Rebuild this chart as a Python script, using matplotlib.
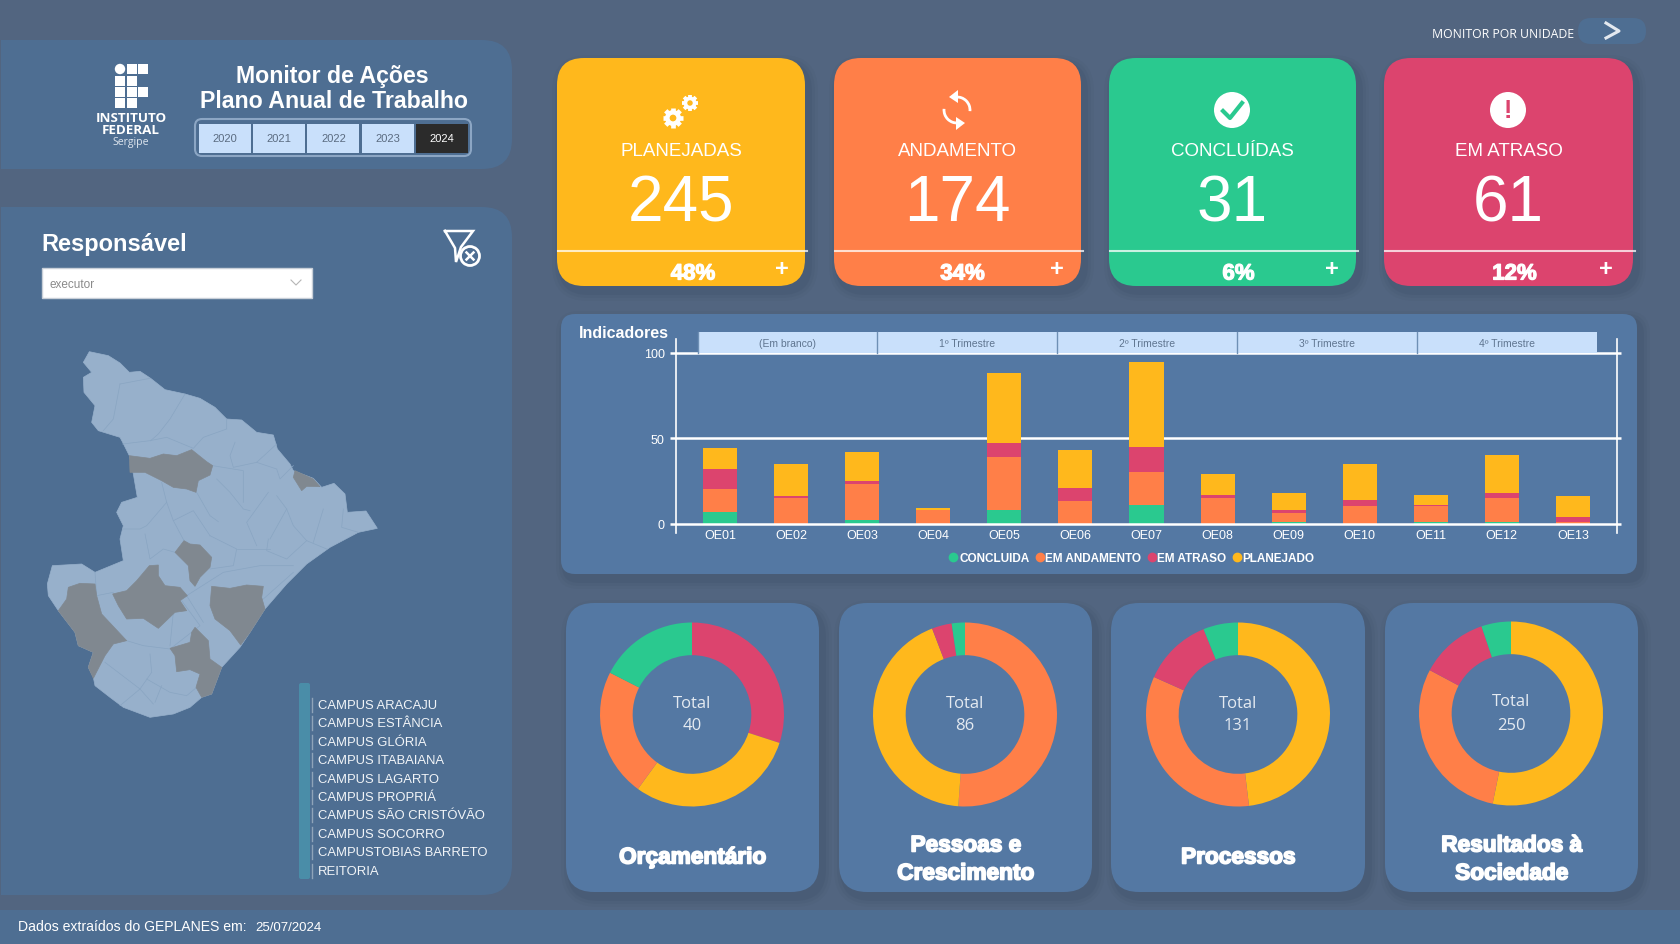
import numpy as np
import matplotlib
matplotlib.use("Agg")
import matplotlib.pyplot as plt
import matplotlib.patheffects as pe
from matplotlib.lines import Line2D
from matplotlib.patches import Arc, Circle, FancyBboxPatch, Polygon, Rectangle

plt.rcParams['font.family'] = ['Liberation Sans', 'DejaVu Sans']

W, H = 1680, 945

# colours
BG = '#526580'
PANEL = '#4E6E92'
PANEL2 = '#5478A3'
YELLOW = '#FFB81C'
ORANGE = '#FF7F48'
GREEN = '#2AC98F'
PINK = '#DC446E'
MAP_FILL = '#97B0CB'
MAP_GRAY = '#808890'
MAP_LINE = '#89A5C2'
BTN = '#C9E0FB'

# kpi cards
card_names = ['PLANEJADAS', 'ANDAMENTO', 'CONCLUÍDAS', 'EM ATRASO']
card_values = [245, 174, 31, 61]
card_pct = ['48%', '34%', '6%', '12%']
card_colors = [YELLOW, ORANGE, GREEN, PINK]

# stacked bars
categories = ['OE01', 'OE02', 'OE03', 'OE04', 'OE05', 'OE06', 'OE07', 'OE08', 'OE09', 'OE10', 'OE11', 'OE12', 'OE13']
concluida = [7, 0, 2, 0, 8, 0, 11, 0, 1, 0, 1, 1, 0]
andamento = [13, 15, 21, 8, 31, 13, 19, 15, 5, 10, 9, 14, 1]
atraso = [12, 1, 2, 0, 8, 8, 15, 2, 2, 4, 1, 3, 3]
planejado = [12, 19, 17, 1, 41, 22, 50, 12, 10, 21, 6, 22, 12]
trimestres = ['(Em branco)', '1º Trimestre', '2º Trimestre', '3º Trimestre', '4º Trimestre']

# donuts, clockwise from 12 o'clock
donut_titles = ['Orçamentário', 'Pessoas e\nCrescimento', 'Processos', 'Resultados à\nSociedade']
donut_totals = [40, 86, 131, 250]
donut_values = [[12, 12, 9, 7], [44, 37, 3, 2], [63, 44, 16, 8], [133, 74, 30, 13]]
donut_colors = [[PINK, YELLOW, ORANGE, GREEN], [ORANGE, YELLOW, PINK, GREEN],
                [YELLOW, ORANGE, PINK, GREEN], [YELLOW, ORANGE, PINK, GREEN]]

anos = ['2020', '2021', '2022', '2023', '2024']
unidades = ['CAMPUS ARACAJU', 'CAMPUS ESTÂNCIA', 'CAMPUS GLÓRIA', 'CAMPUS ITABAIANA', 'CAMPUS LAGARTO',
            'CAMPUS PROPRIÁ', 'CAMPUS SÃO CRISTÓVÃO', 'CAMPUS SOCORRO', 'CAMPUSTOBIAS BARRETO', 'REITORIA']

# map shapes
map_outline = [(178, 38), (235, 50), (270, 72), (298, 100), (330, 97), (362, 118), (405, 152), (465, 165), (510, 178),
               (555, 205), (590, 240), (635, 243), (680, 280), (730, 288), (742, 330), (780, 375), (790, 395), (850, 418),
               (875, 445), (912, 433), (945, 465), (952, 520), (1008, 516), (1042, 568), (985, 580), (900, 625), (830, 675),
               (770, 735), (705, 810), (660, 880), (630, 925), (575, 985), (545, 1065), (515, 1075), (480, 1105), (430, 1125),
               (360, 1135), (280, 1105), (240, 1075), (195, 1040), (190, 1015), (175, 985), (190, 940), (145, 920), (135, 880),
               (85, 815), (55, 770), (52, 735), (67, 680), (155, 675), (195, 700), (280, 665), (270, 600), (280, 560),
               (260, 520), (275, 490), (322, 475), (310, 405), (298, 350), (278, 310), (270, 295), (205, 275), (185, 250),
               (195, 200), (162, 160), (160, 115), (185, 100), (160, 70)]
map_gray = [
    [(298, 350), (360, 358), (400, 345), (440, 350), (485, 332), (530, 368), (548, 380), (540, 408), (505, 425), (498, 460),
     (470, 450), (430, 445), (395, 425), (345, 400), (300, 400)],
    [(795, 395), (850, 420), (870, 443), (830, 442), (815, 455), (790, 415)],
    [(462, 605), (480, 615), (510, 618), (545, 655), (540, 685), (510, 715), (495, 742), (480, 725), (475, 680), (435, 640)],
    [(358, 680), (385, 678), (385, 710), (405, 740), (450, 745), (472, 770), (450, 785), (470, 815), (435, 820), (385, 868),
     (340, 838), (290, 840), (265, 800), (248, 765), (290, 755), (320, 725)],
    [(115, 745), (150, 733), (195, 735), (200, 770), (215, 825), (290, 905), (250, 915), (225, 950), (190, 1018), (175, 985),
     (190, 940), (145, 920), (135, 880), (85, 815), (110, 780)],
    [(545, 742), (600, 748), (650, 738), (700, 742), (695, 775), (705, 810), (660, 880), (632, 918), (600, 875), (555, 840),
     (540, 800)],
    [(495, 865), (535, 905), (540, 960), (575, 985), (545, 1065), (515, 1075), (498, 1045), (510, 1005), (480, 992), (440, 998),
     (435, 950), (420, 928), (480, 910), (485, 880)],
]
map_borders = [
    [(270, 135), (360, 118)], [(270, 135), (250, 240), (220, 275)], [(465, 165), (420, 240), (385, 285), (362, 305)],
    [(278, 315), (360, 305), (410, 295), (490, 328), (520, 295), (590, 270), (590, 240)],
    [(615, 310), (600, 350), (610, 385), (680, 370), (740, 315)], [(680, 370), (740, 390), (750, 420), (790, 380)],
    [(395, 430), (410, 490), (350, 560), (330, 570), (280, 570)], [(410, 490), (430, 545), (490, 515), (540, 590)],
    [(430, 545), (462, 605)], [(345, 585), (360, 660), (400, 630), (435, 640)], [(195, 700), (200, 770), (250, 760)],
    [(548, 380), (640, 395), (640, 490)], [(500, 460), (540, 530), (565, 548)], [(560, 420), (600, 460), (640, 510), (660, 515)],
    [(715, 460), (650, 550), (680, 620)], [(770, 510), (790, 560), (830, 605), (890, 630)], [(880, 510), (850, 610)],
    [(940, 510), (935, 565), (985, 580)], [(720, 600), (770, 510), (740, 470)], [(830, 605), (770, 660), (710, 635), (715, 600)],
    [(540, 590), (620, 630), (610, 680), (540, 690)], [(620, 630), (720, 630)], [(470, 770), (580, 700), (690, 680), (790, 680)],
    [(455, 785), (510, 860), (420, 930), (340, 920), (290, 905)], [(430, 820), (420, 920)],
    [(360, 945), (365, 1000), (330, 1050), (270, 1100)], [(225, 970), (330, 1050), (370, 1095)],
    [(350, 1020), (420, 1060), (470, 1070), (500, 1045)], [(395, 1040), (375, 1090)], [(700, 780), (790, 700)],
    [(470, 770), (520, 850)],
]


def map_xy(points):
    return [(30 + x / 3, 340 + y / 3) for x, y in points]


def box(x0, y0, x1, y1, color, r=24, z=1, **kw):
    p = FancyBboxPatch((x0 + r, y0 + r), x1 - x0 - 2 * r, y1 - y0 - 2 * r,
                       boxstyle='round,pad=%s,rounding_size=%s' % (r, r), fc=color, ec='none', zorder=z, **kw)
    bg.add_patch(p)
    return p


def shadow_box(x0, y0, x1, y1, color, r=24):
    # soft drop shadow
    for grow, a in [(9, 0.05), (6, 0.07), (3, 0.10)]:
        box(x0 - grow + 4, y0 - grow + 6, x1 + grow + 4, y1 + grow + 6, '#2F3F55', r=r + grow, z=1, alpha=a)
    box(x0, y0, x1, y1, color, r=r, z=2)


def px_axes(x0, y0, x1, y1, z=3):
    a = fig.add_axes([x0 / W, 1 - y1 / H, (x1 - x0) / W, (y1 - y0) / H], zorder=z)
    a.patch.set_alpha(0)
    return a


def gear(cx, cy, r, hole):
    # teeth, body and hole of the cog icon
    for ang in np.arange(0, 180, 45):
        dx = np.cos(np.radians(ang)) * r * 1.28
        dy = np.sin(np.radians(ang)) * r * 1.28
        top.plot([cx - dx, cx + dx], [cy - dy, cy + dy], color='white', lw=r * 0.42, solid_capstyle='butt')
    top.add_patch(Circle((cx, cy), r, fc='white', ec='none', zorder=3))
    top.add_patch(Circle((cx, cy), r * 0.42, fc=hole, ec='none', zorder=4))


fig = plt.figure(figsize=(16.8, 9.45), dpi=100, facecolor=BG)
bg = fig.add_axes([0, 0, 1, 1], zorder=0)
bg.set_xlim(0, W)
bg.set_ylim(H, 0)
bg.axis('off')

top = fig.add_axes([0, 0, 1, 1], zorder=5)
top.set_xlim(0, W)
top.set_ylim(H, 0)
top.axis('off')
top.patch.set_alpha(0)

# left panels
box(-40, 41, 512, 170, PANEL, r=30)
box(-40, 208, 512, 896, PANEL, r=30)
bg.add_patch(Rectangle((0, 0), 1, 905, fc=BG, ec='none', zorder=2))
bg.add_patch(Rectangle((0, 911), W, 34, fc=PANEL, ec='none', zorder=1))

# logo
logo_x = [115, 127, 138]
logo_y = [65, 77, 88, 99]
logo_cells = [[0, 1, 1], [1, 1, 0], [1, 1, 1], [1, 1, 0]]
for r, row in enumerate(logo_cells):
    for c, on in enumerate(row):
        if on:
            top.add_patch(Rectangle((logo_x[c], logo_y[r]), 10, 10, fc='white', ec='none'))
top.add_patch(Circle((120, 70), 5.2, fc='white', ec='none'))
top.text(131, 119, 'INSTITUTO', color='white', fontsize=9.6, fontweight='bold', family='Open Sans', ha='center', va='center')
top.text(131, 131, 'FEDERAL', color='white', fontsize=9.6, fontweight='bold', family='Open Sans', ha='center', va='center')
top.text(131, 143, 'Sergipe', color='#DDE5EE', fontsize=7.6, family='Open Sans', ha='center', va='center')

top.text(332, 77, 'Monitor de Ações', color='white', fontsize=16.7, fontweight='bold', ha='center', va='center')
top.text(334.5, 102, 'Plano Anual de Trabalho', color='white', fontsize=16.7, fontweight='bold', ha='center', va='center')

# year slicer
top.add_patch(FancyBboxPatch((201, 126), 264, 25, boxstyle='round,pad=6,rounding_size=7', fc='none', ec='#8CA6C4', lw=1.5))
for i, ano in enumerate(anos):
    x0 = 199 + i * 54.2
    on = ano == '2024'
    top.add_patch(Rectangle((x0, 125), 52, 29, fc='#2B2B2B' if on else BTN, ec='none'))
    top.text(x0 + 26, 139, ano, color='white' if on else '#5A6B80', fontsize=8, ha='center', va='center')

# responsavel
top.text(41, 245, 'Responsável', color='white', fontsize=17, fontweight='bold', ha='left', va='center')
top.add_patch(Rectangle((41.5, 268.5), 270, 30, fc='white', ec='#C8CFD8', lw=1))
top.text(49, 285, 'executor', color='#8A8A8A', fontsize=8.5, ha='left', va='center')
top.plot([291, 296, 301], [281, 286, 281], color='#B5B5B5', lw=0.8)

# clear filter icon
top.plot([445, 473, 461, 456, 455, 445], [232, 232, 248, 263, 249, 232], color='white', lw=1.8, solid_joinstyle='miter')
top.add_patch(Circle((470, 257), 9.5, fc=PANEL, ec='white', lw=2, zorder=3))
top.plot([466.5, 473.5], [253.5, 260.5], color='white', lw=1.8, zorder=4)
top.plot([466.5, 473.5], [260.5, 253.5], color='white', lw=1.8, zorder=4)

# map
top.add_patch(Polygon(map_xy(map_outline), closed=True, fc=MAP_FILL, ec=MAP_FILL, lw=0.5))
for line in map_borders:
    pts = map_xy(line)
    top.plot([p[0] for p in pts], [p[1] for p in pts], color=MAP_LINE, lw=0.5)
for shape in map_gray:
    top.add_patch(Polygon(map_xy(shape), closed=True, fc=MAP_GRAY, ec=MAP_GRAY, lw=0.5, zorder=3))

# unit list
top.add_patch(FancyBboxPatch((301, 686), 7, 192, boxstyle='round,pad=2,rounding_size=2', fc='#4A8DA8', ec='none'))
for i, nome in enumerate(unidades):
    y = 706 + i * 18.4
    top.plot([312, 312], [y - 7, y + 7], color='#8FA3B9', lw=1)
    top.text(318, y, nome, color='#F2F5F8', fontsize=9.4, ha='left', va='center')

# footer
top.text(18, 927, 'Dados extraídos do GEPLANES em:', color='white', fontsize=10.1, ha='left', va='center')
top.text(255, 928, '25/07/2024', color='white', fontsize=9.5, ha='left', va='center')

# link to unit page
top.text(1574, 35, 'MONITOR POR UNIDADE', color='white', fontsize=8.8, family='Open Sans', ha='right', va='center')
box(1578, 19, 1646, 45, PANEL, r=13)
top.plot([1606, 1619, 1606], [24, 32, 39], color='#E4E9EF', lw=2.2)

# kpi cards
card_x = [(557, 805), (834, 1081), (1109, 1356), (1384, 1633)]
pct_shift = [12, 5, 6, 6]
plus_shift = [23, 24, 24, 27]
for i, (x0, x1) in enumerate(card_x):
    shadow_box(x0, 59, x1, 287, card_colors[i], r=27)
    cx = (x0 + x1) / 2
    top.plot([x0 + 1, x1 + 2], [252, 252], color='white', alpha=0.75, lw=1.5)
    top.text(cx, 151, card_names[i], color='white', fontsize=13.5, ha='center', va='center')
    top.text(cx, 204, str(card_values[i]), color='white', fontsize=46, ha='center', va='center')
    t = top.text(cx + pct_shift[i], 275, card_pct[i], color='white', fontsize=16, fontweight='bold', ha='center', va='center')
    t.set_path_effects([pe.withStroke(linewidth=0.9, foreground='white')])
    top.text(x1 - plus_shift[i], 269, '+', color='white', fontsize=17, fontweight='bold', ha='center', va='center')

# card icons
gear(673, 119, 8, YELLOW)
gear(690, 104, 6.5, YELLOW)
top.add_patch(Arc((957, 111), 26, 26, theta1=-95, theta2=5, color='white', lw=2))
top.add_patch(Arc((957, 111), 26, 26, theta1=85, theta2=185, color='white', lw=2))
top.add_patch(Polygon([(949, 98), (958, 91), (958, 104)], closed=True, fc='white', ec='none'))
top.add_patch(Polygon([(965, 124), (956, 118), (956, 131)], closed=True, fc='white', ec='none'))
top.add_patch(Circle((1232, 111), 18, fc='white', ec='none'))
top.plot([1223, 1230, 1242], [112, 119, 104], color=GREEN, lw=3)
top.add_patch(Circle((1508, 111), 18, fc='white', ec='none'))
top.text(1508, 111, '!', color=PINK, fontsize=18, fontweight='bold', ha='center', va='center')

# stacked bar panel
shadow_box(561, 315, 1637, 575, PANEL2, r=14)
top.text(579, 334, 'Indicadores', color='white', fontsize=11.5, fontweight='bold', ha='left', va='center')
ax = px_axes(676, 354, 1617, 524.5)
ax.set_xlim(-0.62, 12.62)
ax.set_ylim(0, 100)
bottom = [0] * len(categories)
for values, color in [(concluida, GREEN), (andamento, ORANGE), (atraso, PINK), (planejado, YELLOW)]:
    ax.bar(categories, values, width=0.48, bottom=bottom, color=color, zorder=2)
    bottom = [b + v for b, v in zip(bottom, values)]
for s in ax.spines.values():
    s.set_visible(False)
ax.set_yticks([0, 50, 100])
ax.tick_params(axis='both', length=0, labelcolor='white', labelsize=9, pad=4)
ax.tick_params(axis='y', pad=8)
for v in [0, 50, 100]:
    ax.hlines(v, -0.7, 12.67, color='white', lw=1.8, zorder=3 if v == 0 else 1, clip_on=False)
top.plot([676, 676], [340, 534], color='white', lw=1.2)
top.plot([1617, 1617], [340, 534], color='white', lw=1.2)
for i, nome in enumerate(trimestres):
    x0 = 697.5 + i * 179.8
    top.add_patch(Rectangle((x0, 333), 179.8, 21, fc=BTN, ec='none'))
    top.plot([x0, x0], [333, 354], color='#6E90B5', lw=1)
    top.text(x0 + 90, 344, nome, color='#5F7590', fontsize=7.5, ha='center', va='center')

handles = [Line2D([], [], ls='none', marker='o', ms=6, color=c) for c in [GREEN, ORANGE, PINK, YELLOW]]
leg = top.legend(handles, ['CONCLUIDA', 'EM ANDAMENTO', 'EM ATRASO', 'PLANEJADO'], ncol=4, frameon=False,
                 loc='center', bbox_to_anchor=(1131 / W, 1 - 559 / H), bbox_transform=fig.transFigure,
                 handletextpad=0.0, columnspacing=0.35, handlelength=1.0, prop={'size': 8.5, 'weight': 'bold'})
for t in leg.get_texts():
    t.set_color('white')

# donut panels
panel_x = [(566, 819), (839, 1092), (1111, 1365), (1385, 1638)]
donut_c = [(692, 715.5), (965, 715.5), (1238, 715.5), (1511, 714.5)]
for i, (x0, x1) in enumerate(panel_x):
    shadow_box(x0, 604, x1, 893, PANEL2, r=28)
    cx, cy = donut_c[i]
    d = px_axes(cx - 92, cy - 92, cx + 92, cy + 92)
    d.pie(donut_values[i], colors=donut_colors[i], startangle=90, counterclock=False, radius=1,
          wedgeprops={'width': 0.355, 'linewidth': 0})
    d.set_xlim(-1, 1)
    d.set_ylim(-1, 1)
    top.text(cx, cy - 12, 'Total', color='#E4EAF1', fontsize=12, family='Open Sans', ha='center', va='center')
    top.text(cx, cy + 11, str(donut_totals[i]), color='#E4EAF1', fontsize=12, family='Open Sans', ha='center', va='center')
    title_y = 860 if '\n' in donut_titles[i] else 858
    t = top.text((x0 + x1) / 2, title_y, donut_titles[i], color='white', fontsize=16.3, fontweight='bold',
                 ha='center', va='center', linespacing=1.28)
    t.set_path_effects([pe.withStroke(linewidth=1.2, foreground='white')])

fig.savefig('out.png', dpi=100, facecolor=BG)
